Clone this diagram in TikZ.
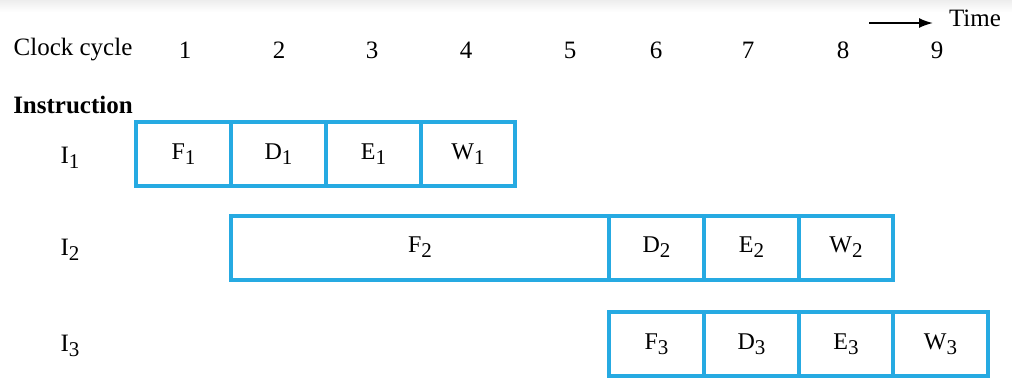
\documentclass[tikz,border=0pt]{standalone}
\usepackage{fontspec}
\setmainfont{Liberation Serif}
\usetikzlibrary{arrows.meta}

\definecolor{stageblue}{RGB}{38,170,226}
\newcommand{\lowsub}[1]{\raisebox{-0.45ex}{\fontsize{10.5}{11}\selectfont #1}}
\tikzset{
  stage/.style={rectangle,draw=stageblue,line width=2pt,minimum width=47.4pt,minimum height=32pt,inner sep=0pt,font=\fontsize{12}{14}\selectfont},
  lbl/.style={font=\fontsize{12.5}{14}\selectfont},
}

\begin{document}
\begin{tikzpicture}[x=0.5pt,y=-0.5pt]
\useasboundingbox (0,0) rectangle (1012,377);
\shade[top color=black!7,bottom color=white] (0,0) rectangle (1012,12);

% header
\node[lbl] (clk) at (73,50) {Clock cycle};
\foreach \n/\x in {1/185,2/279,3/372,4/466,5/570,6/656,7/748,8/843,9/937}
  \node[lbl] (c\n) at (\x,50) {\n};
\node[lbl] (time) at (975,18) {Time};
\coordinate (T0) at (869,23);
\coordinate (T1) at (933,23);
\draw[-{Latex[length=7pt,width=5pt]},line width=0.9pt] (T0) -- (T1);

\node[lbl,font=\fontsize{12.5}{14}\selectfont\bfseries] (instr) at (73,105) {Instruction};
\node[lbl] (I1) at (70,158) {I\lowsub{1}};
\node[lbl] (I2) at (70,250) {I\lowsub{2}};
\node[lbl] (I3) at (70,346) {I\lowsub{3}};

% I1
\node[stage] (F1) at (183.5,154) {F\lowsub{1}};
\node[stage] (D1) at (278.5,154) {D\lowsub{1}};
\node[stage] (E1) at (373.5,154) {E\lowsub{1}};
\node[stage] (W1) at (468,154) {W\lowsub{1}};

% I2, fetch takes four cycles
\node[stage,minimum width=189pt] (F2) at (420,247.5) {F\lowsub{2}};
\node[stage] (D2) at (656.5,247.5) {D\lowsub{2}};
\node[stage] (E2) at (751.5,247.5) {E\lowsub{2}};
\node[stage] (W2) at (846,247.5) {W\lowsub{2}};

% I3
\node[stage] (F3) at (656.5,344) {F\lowsub{3}};
\node[stage] (D3) at (751.5,344) {D\lowsub{3}};
\node[stage] (E3) at (846,344) {E\lowsub{3}};
\node[stage] (W3) at (940.5,344) {W\lowsub{3}};

\end{tikzpicture}
\end{document}
